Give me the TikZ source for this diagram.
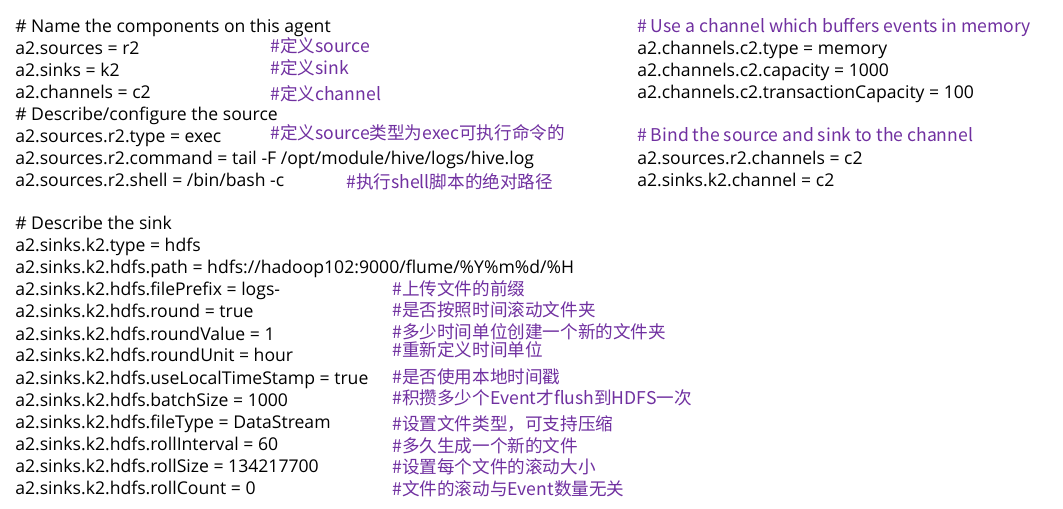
\documentclass[tikz,border=0pt]{standalone}
\usepackage{fontspec}
\setmainfont{Open Sans}
\newfontfamily\cjk{Noto Sans CJK SC}
\usetikzlibrary{positioning}
\definecolor{cmtpurple}{HTML}{7030A0}
\begin{document}
\begin{tikzpicture}[
    x=0.75pt, y=-0.75pt,
    code/.style={anchor=base west, inner sep=0pt, font=\fontsize{13.2}{15}\selectfont},
    cmt/.style={anchor=base west, inner sep=0pt, text=cmtpurple, font=\cjk\fontsize{13.2}{15}\selectfont},
]
    \useasboundingbox (0,0) rectangle (1063,509);

    % left column, source part
    \node[code] (L1) at (15,33) {\# Name the components on this agent};
    \node[code] (L2) at (15,55) {a2.sources = r2};
    \node[code] (L3) at (15,77) {a2.sinks = k2};
    \node[code] (L4) at (15,99) {a2.channels = c2};
    \node[code] (L5) at (15,121) {\# Describe/configure the source};
    \node[code] (L6) at (15,143) {a2.sources.r2.type = exec};
    \node[code] (L7) at (15,165) {a2.sources.r2.command = tail -F /opt/module/hive/logs/hive.log};
    \node[code] (L8) at (15,187) {a2.sources.r2.shell = /bin/bash -c};

    \node[cmt] (C2) at (270,53) {\#定义source};
    \node[cmt] (C3) at (270,75) {\#定义sink};
    \node[cmt] (C4) at (270,101) {\#定义channel};
    \node[cmt] (C6) at (270,140) {\#定义source类型为exec可执行命令的};
    \node[cmt] (C8) at (346,189) {\#执行shell脚本的绝对路径};

    % left column, sink part
    \node[code] (S1) at (15,230) {\# Describe the sink};
    \node[code] (S2) at (15,252) {a2.sinks.k2.type = hdfs};
    \node[code] (S3) at (15,274) {a2.sinks.k2.hdfs.path = hdfs://hadoop102:9000/flume/\%Y\%m\%d/\%H};
    \node[code] (S4) at (15,296) {a2.sinks.k2.hdfs.filePrefix = logs-};
    \node[code] (S5) at (15,318) {a2.sinks.k2.hdfs.round = true};
    \node[code] (S6) at (15,340) {a2.sinks.k2.hdfs.roundValue = 1};
    \node[code] (S7) at (15,362) {a2.sinks.k2.hdfs.roundUnit = hour};
    \node[code] (S8) at (15,384) {a2.sinks.k2.hdfs.useLocalTimeStamp = true};
    \node[code] (S9) at (15,406) {a2.sinks.k2.hdfs.batchSize = 1000};
    \node[code] (S10) at (15,428) {a2.sinks.k2.hdfs.fileType = DataStream};
    \node[code] (S11) at (15,450) {a2.sinks.k2.hdfs.rollInterval = 60};
    \node[code] (S12) at (15,472) {a2.sinks.k2.hdfs.rollSize = 134217700};
    \node[code] (S13) at (15,494) {a2.sinks.k2.hdfs.rollCount = 0};

    \node[cmt] (D4) at (392,296) {\#上传文件的前缀};
    \node[cmt] (D5) at (392,317) {\#是否按照时间滚动文件夹};
    \node[cmt] (D6) at (392,339) {\#多少时间单位创建一个新的文件夹};
    \node[cmt] (D7) at (392,357) {\#重新定义时间单位};
    \node[cmt] (D8) at (392,383) {\#是否使用本地时间戳};
    \node[cmt] (D9) at (392,404) {\#积攒多少个Event才flush到HDFS一次};
    \node[cmt] (D10) at (392,430) {\#设置文件类型，可支持压缩};
    \node[cmt] (D11) at (392,452) {\#多久生成一个新的文件};
    \node[cmt] (D12) at (392,473) {\#设置每个文件的滚动大小};
    \node[cmt] (D13) at (392,495) {\#文件的滚动与Event数量无关};

    % right column
    \node[cmt] (R1) at (637,33) {\# Use a channel which buffers events in memory};
    \node[code] (R2) at (637,55) {a2.channels.c2.type = memory};
    \node[code] (R3) at (637,77) {a2.channels.c2.capacity = 1000};
    \node[code] (R4) at (637,99) {a2.channels.c2.transactionCapacity = 100};
    \node[cmt] (R5) at (637,142) {\# Bind the source and sink to the channel};
    \node[code] (R6) at (637,165) {a2.sources.r2.channels = c2};
    \node[code] (R7) at (637,187) {a2.sinks.k2.channel = c2};
\end{tikzpicture}
\end{document}
